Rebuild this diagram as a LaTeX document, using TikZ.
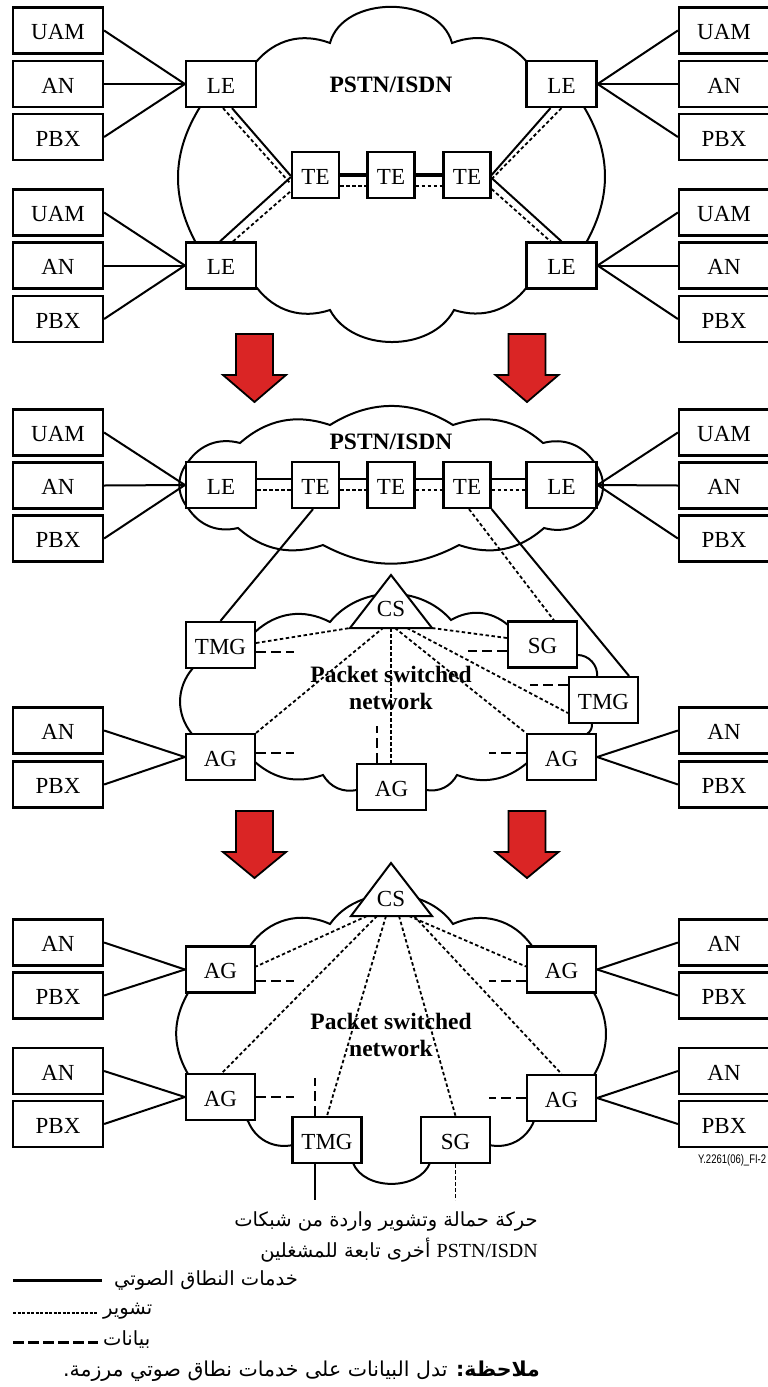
\documentclass[tikz,border=0pt]{standalone}
\usepackage{fontspec}
\setmainfont{Liberation Serif}
\newfontfamily\arabicfont[Script=Arabic]{DejaVu Sans}
\newfontfamily\figidfont{Liberation Sans}
\TeXXeTstate=1
\definecolor{flowred}{RGB}{218,37,37}
\begin{document}
\begin{tikzpicture}[x=1pt,y=-1pt,
  box/.style={draw, line width=2.2pt, fill=white, inner sep=0pt,
    minimum height=46pt, text height=18pt, text depth=0pt,
    font=\fontsize{23}{27}\selectfont},
  endbox/.style={box, minimum width=90pt},
  lebox/.style={box, minimum width=70pt},
  tebox/.style={box, minimum width=47pt},
  gwbox/.style={box, minimum width=69pt},
  voice/.style={line width=2pt},
  trunk/.style={line width=3.4pt},
  sig/.style={line width=1.8pt, dash pattern=on 3.5pt off 2.5pt},
  data/.style={line width=2pt, dash pattern=on 10pt off 5pt},
  cloudline/.style={line width=2pt},
  netlabel/.style={font=\bfseries\fontsize{23.5}{27}\selectfont, align=center},
  cslabel/.style={font=\fontsize{23}{27}\selectfont},
  flowarrow/.style={draw, line width=1.8pt, fill=flowred, line join=miter},
  arabic/.style={font=\arabicfont\fontsize{19.5}{22}\selectfont, inner sep=0pt},
]
\useasboundingbox (0,0) rectangle (768,1387);

% ---------- clouds ----------
\draw[cloudline] (256,62) to[bend left=35] (330,43) to[bend left=75, looseness=1.05] (452,43)
  to[bend left=35] (527,62) -- (584,107) to[bend left=30] (586,243)
  -- (527,287) to[bend left=35] (454,310) to[bend left=62] (330,310)
  to[bend left=35] (257,288) -- (196,243) to[bend left=30] (200,107) -- cycle;

\draw[cloudline] (188,462) to[bend left=35] (240,443) to[bend left=30] (330,425)
  to[bend left=32] (453,425) to[bend left=30] (543,443) to[bend left=35] (594,462)
  to[bend left=40] (594,510) to[bend left=35] (544,528) to[bend left=30] (459,545)
  to[bend left=28] (323,545) to[bend left=30] (238,528) to[bend left=35] (188,508)
  to[bend left=40] (188,462) -- cycle;

\draw[cloudline] (255,632) to[bend left=35] (330,622) to[bend left=50] (451,620)
  to[bend left=35] (508,625) -- (577,655) to[bend left=50] (597,677)
  -- (592,723) to[bend left=30] (587,734) -- (527,763) to[bend left=30] (457,775)
  to[bend left=35] (426,790) -- (357,790) to[bend left=35] (323,775)
  to[bend left=30] (255,762) -- (192,734) to[bend left=40] (193,668) -- cycle;

\draw[cloudline] (250,946) to[bend left=40] (330,924) to[bend left=55] (453,924)
  to[bend left=40] (532,946) -- (594,993) to[bend left=30] (594,1075)
  -- (534,1121) to[bend left=40] (489,1145) -- (430,1163) to[bend left=68] (353,1163)
  -- (293,1145) to[bend left=40] (248,1121) -- (188,1074) to[bend left=30] (188,993) -- cycle;

% ---------- call servers ----------
\coordinate (csMa) at (391,575); \coordinate (csMl) at (350,628); \coordinate (csMr) at (432,628);
\draw[line width=2pt, fill=white, line join=miter] (csMa) -- (csMr) -- (csMl) -- cycle;
\node[cslabel] (csM) at (391,609) {CS};

\coordinate (csBa) at (391,863); \coordinate (csBl) at (351,916); \coordinate (csBr) at (432,916);
\draw[line width=2pt, fill=white, line join=miter] (csBa) -- (csBr) -- (csBl) -- cycle;
\node[cslabel] (csB) at (391,899) {CS};

% ---------- network labels ----------
\node[netlabel] (pstnA) at (391,85) {PSTN/ISDN};
\node[netlabel] (pstnB) at (391,442) {PSTN/ISDN};
\node[netlabel] (psnM) at (391,688) {Packet switched\\network};
\node[netlabel] (psnB) at (391,1035) {Packet switched\\network};

% ---------- top panel ----------
\node[endbox] (aUamL1) at (58,30.5) {UAM};
\node[endbox] (aAnL1)  at (58,84)   {AN};
\node[endbox] (aPbxL1) at (58,137)  {PBX};
\node[endbox] (aUamL2) at (58,212.5){UAM};
\node[endbox] (aAnL2)  at (58,265.5){AN};
\node[endbox] (aPbxL2) at (58,319)  {PBX};
\node[endbox] (aUamR1) at (724,30.5) {UAM};
\node[endbox] (aAnR1)  at (724,84)   {AN};
\node[endbox] (aPbxR1) at (724,137)  {PBX};
\node[endbox] (aUamR2) at (724,212.5){UAM};
\node[endbox] (aAnR2)  at (724,265.5){AN};
\node[endbox] (aPbxR2) at (724,319)  {PBX};
\node[lebox] (aLe1) at (221,84)    {LE};
\node[lebox] (aLe2) at (221,265.5) {LE};
\node[lebox] (aLe3) at (561.5,84)  {LE};
\node[lebox] (aLe4) at (561.5,265.5){LE};
\node[tebox] (aTe1) at (315.5,175) {TE};
\node[tebox] (aTe2) at (391,175)   {TE};
\node[tebox] (aTe3) at (467,175)   {TE};

\foreach \n in {aUamL1,aAnL1,aPbxL1} \draw[voice] (\n.east) -- (aLe1.west);
\foreach \n in {aUamL2,aAnL2,aPbxL2} \draw[voice] (\n.east) -- (aLe2.west);
\foreach \n in {aUamR1,aAnR1,aPbxR1} \draw[voice] (\n.west) -- (aLe3.east);
\foreach \n in {aUamR2,aAnR2,aPbxR2} \draw[voice] (\n.west) -- (aLe4.east);

\draw[trunk] (aTe1.east) -- (aTe2.west);
\draw[trunk] (aTe2.east) -- (aTe3.west);
\draw[sig] ([yshift=-11pt]aTe1.east) -- ([yshift=-11pt]aTe2.west);
\draw[sig] ([yshift=-11pt]aTe2.east) -- ([yshift=-11pt]aTe3.west);

\draw[voice] ([xshift=11pt]aLe1.south) -- ([yshift=-1pt]aTe1.west);
\draw[sig]   ([xshift=2pt]aLe1.south)  -- ([yshift=-9pt]aTe1.west);
\draw[voice] ([xshift=-1pt]aLe2.north) -- ([yshift=-2pt]aTe1.west);
\draw[sig]   ([xshift=12pt]aLe2.north) -- ([yshift=-16pt]aTe1.west);
\draw[voice] (aTe3.east) -- ([xshift=-11pt]aLe3.south);
\draw[sig]   ([yshift=-4pt]aTe3.east) -- (aLe3.south);
\draw[voice] ([yshift=-3pt]aTe3.east) -- (aLe4.north);
\draw[sig]   ([yshift=-14pt]aTe3.east) -- ([xshift=-11pt]aLe4.north);

% ---------- middle panel ----------
\node[endbox] (bUamL) at (58,432.5) {UAM};
\node[endbox] (bAnL)  at (58,485.5) {AN};
\node[endbox] (bPbxL) at (58,538.5) {PBX};
\node[endbox] (bUamR) at (724,432.5) {UAM};
\node[endbox] (bAnR)  at (724,485.5) {AN};
\node[endbox] (bPbxR) at (724,538.5) {PBX};
\node[lebox] (bLe1) at (221,485)   {LE};
\node[tebox] (bTe1) at (315.5,485) {TE};
\node[tebox] (bTe2) at (391,485)   {TE};
\node[tebox] (bTe3) at (467,485)   {TE};
\node[lebox] (bLe2) at (561.5,485) {LE};
\node[gwbox] (bTmgL) at (220.5,645) {TMG};
\node[gwbox] (bAgL)  at (220.5,757) {AG};
\node[gwbox] (bAgB)  at (391.5,787) {AG};
\node[gwbox] (bSg)   at (542.5,644.5) {SG};
\node[gwbox] (bTmgR) at (603.5,700) {TMG};
\node[gwbox] (bAgR)  at (561.5,757) {AG};
\node[endbox] (bAnL2)  at (58,730.5) {AN};
\node[endbox] (bPbxL2) at (58,784.5) {PBX};
\node[endbox] (bAnR2)  at (724,730.5) {AN};
\node[endbox] (bPbxR2) at (724,784.5) {PBX};

\foreach \n in {bUamL,bAnL,bPbxL} \draw[voice] (\n.east) -- (bLe1.west);
\foreach \n in {bUamR,bAnR,bPbxR} \draw[voice] (\n.west) -- (bLe2.east);
\foreach \n in {bAnL2,bPbxL2} \draw[voice] (\n.east) -- (bAgL.west);
\foreach \n in {bAnR2,bPbxR2} \draw[voice] (\n.west) -- (bAgR.east);

\foreach \a/\b in {bLe1/bTe1,bTe1/bTe2,bTe2/bTe3,bTe3/bLe2} {
  \draw[voice] ([yshift=6pt]\a.east) -- ([yshift=6pt]\b.west);
  \draw[sig]   ([yshift=-5pt]\a.east) -- ([yshift=-5pt]\b.west);
}
\draw[voice] ([xshift=-2.5pt]bTe1.south) -- (bTmgL.north);
\draw[sig]   ([xshift=2pt]bTe3.south) -- ([xshift=11.5pt]bSg.north);
\draw[voice] (bTe3.south east) -- ([xshift=25.5pt]bTmgR.north);

\draw[sig] ([yshift=2pt]bTmgL.east) -- (csMl);
\draw[sig] (bAgL.north east) -- ([xshift=33pt]csMl);
\draw[sig] ([xshift=41pt]csMl) -- ([xshift=-0.5pt]bAgB.north);
\draw[sig] (csMr) -- ([yshift=6.5pt]bSg.west);
\draw[sig] ([xshift=57pt]csMl) -- ([yshift=-13pt]bTmgR.west);
\draw[sig] ([xshift=45pt]csMl) -- (bAgR.north west);

\draw[data] ([yshift=-7pt]bTmgL.east) -- ++(38,0);
\draw[data] ([yshift=4pt]bAgL.east) -- ++(38,0);
\draw[data] ([xshift=-14.5pt]bAgB.north) -- ++(0,-37);
\draw[data] ([yshift=-6.5pt]bSg.west) -- ++(-39,0);
\draw[data] ([yshift=15pt]bTmgR.west) -- ++(-38,0);
\draw[data] ([yshift=4pt]bAgR.west) -- ++(-37,0);

% ---------- bottom panel ----------
\node[endbox] (cAnL1)  at (58,942.5) {AN};
\node[endbox] (cPbxL1) at (58,995.5) {PBX};
\node[endbox] (cAnL2)  at (58,1071)  {AN};
\node[endbox] (cPbxL2) at (58,1124)  {PBX};
\node[endbox] (cAnR1)  at (724,942.5) {AN};
\node[endbox] (cPbxR1) at (724,995.5) {PBX};
\node[endbox] (cAnR2)  at (724,1071)  {AN};
\node[endbox] (cPbxR2) at (724,1124)  {PBX};
\node[gwbox] (cAgL1) at (220.5,969.5) {AG};
\node[gwbox] (cAgL2) at (220.5,1097)  {AG};
\node[gwbox] (cTmg)  at (327,1140)    {TMG};
\node[gwbox] (cSg)   at (455.5,1140)  {SG};
\node[gwbox] (cAgR1) at (561.5,969.5) {AG};
\node[gwbox] (cAgR2) at (561.5,1098)  {AG};

\foreach \n in {cAnL1,cPbxL1} \draw[voice] (\n.east) -- (cAgL1.west);
\foreach \n in {cAnL2,cPbxL2} \draw[voice] (\n.east) -- (cAgL2.west);
\foreach \n in {cAnR1,cPbxR1} \draw[voice] (\n.west) -- (cAgR1.east);
\foreach \n in {cAnR2,cPbxR2} \draw[voice] (\n.west) -- (cAgR2.east);

\draw[sig] ([xshift=16pt]csBl) -- ([yshift=3pt]cAgL1.east);
\draw[sig] ([xshift=26pt]csBl) -- ([xshift=1.5pt]cAgL2.north);
\draw[sig] ([xshift=35pt]csBl) -- (cTmg.north);
\draw[sig] ([xshift=48pt]csBl) -- (cSg.north);
\draw[sig] ([xshift=58pt]csBl) -- ([yshift=3pt]cAgR1.west);
\draw[sig] ([xshift=63pt]csBl) -- (cAgR2.north);

\draw[data] ([yshift=-11.5pt]cAgL1.east) -- ++(38,0);
\draw[data] (cAgL2.east) -- ++(38,0);
\draw[data] ([xshift=-12pt]cTmg.north) -- ++(0,-38);
\draw[data] ([yshift=-11.5pt]cAgR1.west) -- ++(-37,0);
\draw[data] (cAgR2.west) -- ++(-37,0);

\draw[voice] ([xshift=-12pt]cTmg.south) -- ++(0,36);
\draw[sig]   (cSg.south) -- ++(0,36);

% ---------- migration arrows ----------
\draw[flowarrow] (236,334) -- (273,334) -- (273,375) -- (286,375) -- (254.5,402) -- (223,375) -- (236,375) -- cycle;
\draw[flowarrow] (508.5,334) -- (545.5,334) -- (545.5,375) -- (558.5,375) -- (527,402) -- (495.5,375) -- (508.5,375) -- cycle;
\draw[flowarrow] (236,811) -- (273,811) -- (273,852) -- (286,852) -- (254.5,878) -- (223,852) -- (236,852) -- cycle;
\draw[flowarrow] (508.5,811) -- (545.5,811) -- (545.5,852) -- (558.5,852) -- (527,878) -- (495.5,852) -- (508.5,852) -- cycle;

% ---------- figure id ----------
\node[font=\figidfont\fontsize{12.5}{14}\selectfont, anchor=west, inner sep=0pt] (figid) at (698,1160) {\scalebox{0.76}[1]{Y.2261(06)\_FI-2}};

% ---------- caption of the outgoing links ----------
\node[arabic, anchor=east] (ext1) at (538,1221) {\beginR حركة حمالة وتشوير واردة من شبكات\endR};
\node[arabic, anchor=east] (ext2) at (538,1250) {\beginR\beginL{\rmfamily\fontsize{20}{22}\selectfont PSTN/ISDN}\endL{} أخرى تابعة للمشغلين\endR};

% ---------- legend ----------
\draw[line width=3pt] (13,1280) -- (102,1280);
\draw[line width=1.8pt, dash pattern=on 3pt off 1.5pt] (13,1313) -- (98,1313);
\draw[line width=3pt, dash pattern=on 11pt off 4pt] (13,1342) -- (98,1342);
\node[arabic, anchor=west] (lgVoice) at (114,1280) {\beginR خدمات النطاق الصوتي\endR};
\node[arabic, anchor=west] (lgSig)   at (103,1311) {\beginR تشوير\endR};
\node[arabic, anchor=west] (lgData)  at (103,1340) {\beginR بيانات\endR};
\node[arabic, anchor=east, font=\arabicfont\fontsize{20.5}{23}\selectfont] (note) at (540,1371) {\beginR{\bfseries ملاحظة:} تدل البيانات على خدمات نطاق صوتي مرزمة.\endR};
\end{tikzpicture}
\end{document}
